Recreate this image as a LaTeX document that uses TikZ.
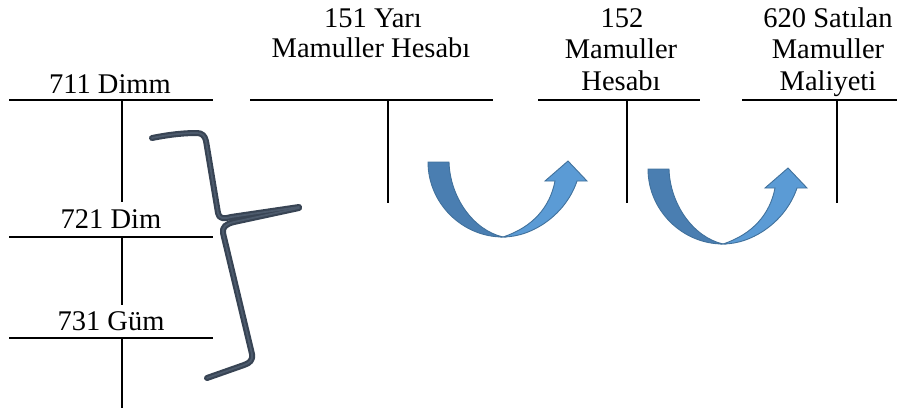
\documentclass[tikz,border=0pt]{standalone}
\usepackage{fontspec}
\setmainfont{Liberation Serif}
\definecolor{bandDark}{RGB}{74,126,177}
\definecolor{bandLight}{RGB}{91,155,213}
\definecolor{bandEdge}{RGB}{65,113,156}
\definecolor{braceInk}{RGB}{56,68,84}
\definecolor{braceHi}{RGB}{76,90,108}
\tikzset{
  tline/.style={line width=1.8pt, black},
  lbl/.style={font=\fontsize{28.5}{31}\selectfont, anchor=base, inner sep=0pt},
  bracestroke/.style={line width=6pt, braceInk, line cap=round, line join=round},
  bracehi/.style={line width=1.8pt, braceHi, line cap=round, line join=round},
  curvarrow/.pic={
    % back ribbon (left half of the U)
    \fill[bandDark, draw=bandEdge, line width=0.9pt]
      (0,0) -- (21,0) .. controls (22,35) and (45,68) .. (75,75)
      .. controls (34,75) and (0,41) .. (0,0) -- cycle;
    % front ribbon with the head (right half of the U)
    \fill[bandLight, draw=bandEdge, line width=0.9pt]
      (75,75) .. controls (105,75) and (138,52) .. (149,19)
      -- (159,19) -- (140,-1) -- (117,19) -- (127,19)
      .. controls (122,45) and (105,65) .. (75,75) -- cycle;
  }
}
\begin{document}
\begin{tikzpicture}[x=1pt,y=-1pt]
\useasboundingbox (0,0) rectangle (907,408);

% ---- left column of T accounts ----
\coordinate (dA1) at (9,100);   \coordinate (dA2) at (213,100);
\coordinate (dAt) at (122,100); \coordinate (dAb) at (122,202);
\coordinate (dB1) at (9,237);   \coordinate (dB2) at (213,237);
\coordinate (dBt) at (122,237); \coordinate (dBb) at (122,305);
\coordinate (dC1) at (9,338);   \coordinate (dC2) at (213,338);
\coordinate (dCt) at (122,338); \coordinate (dCb) at (122,408);
\draw[tline] (dA1) -- (dA2) (dAt) -- (dAb);
\draw[tline] (dB1) -- (dB2) (dBt) -- (dBb);
\draw[tline] (dC1) -- (dC2) (dCt) -- (dCb);
\node[lbl] (t711) at (110,93) {711 Dimm};
\node[lbl] (t721) at (111,228) {721 Dim};
\node[lbl] (t731) at (111,330) {731 Güm};

% ---- top row of T accounts ----
\coordinate (yA1) at (250,100); \coordinate (yA2) at (493,100);
\coordinate (yAt) at (388,100); \coordinate (yAb) at (388,203);
\draw[tline] (yA1) -- (yA2) (yAt) -- (yAb);
\node[lbl] (t151a) at (373,27) {151 Yarı};
\node[lbl] (t151b) at (371,57) {Mamuller Hesabı};

\coordinate (mA1) at (538,100); \coordinate (mA2) at (700,100);
\coordinate (mAt) at (627,100); \coordinate (mAb) at (627,203);
\draw[tline] (mA1) -- (mA2) (mAt) -- (mAb);
\node[lbl] (t152a) at (622,27) {152};
\node[lbl] (t152b) at (621,58) {Mamuller};
\node[lbl] (t152c) at (621,90) {Hesabı};

\coordinate (sA1) at (742,100); \coordinate (sA2) at (897,100);
\coordinate (sAt) at (837,100); \coordinate (sAb) at (837,203);
\draw[tline] (sA1) -- (sA2) (sAt) -- (sAb);
\node[lbl] (t620a) at (828,27) {620 Satılan};
\node[lbl] (t620b) at (828,58) {Mamuller};
\node[lbl] (t620c) at (828,90) {Maliyeti};

% ---- brace gathering the three cost accounts ----
\foreach \sty in {bracestroke,bracehi}{
  \draw[\sty]
    (152,138) .. controls (172,134) and (186,133) .. (197,133)
    .. controls (202,133) and (205,136) .. (206,141)
    -- (218,213) .. controls (219,219) and (224,219) .. (231,217)
    -- (299,207);
  \draw[\sty]
    (299,208) -- (234,222) .. controls (226,224) and (222,227) .. (223,233)
    -- (252,354) .. controls (253,360) and (250,363) .. (244,365)
    -- (207,378);
}

% ---- transfer arrows ----
\pic at (428,162) {curvarrow};
\pic at (648,169) {curvarrow};
\end{tikzpicture}
\end{document}
